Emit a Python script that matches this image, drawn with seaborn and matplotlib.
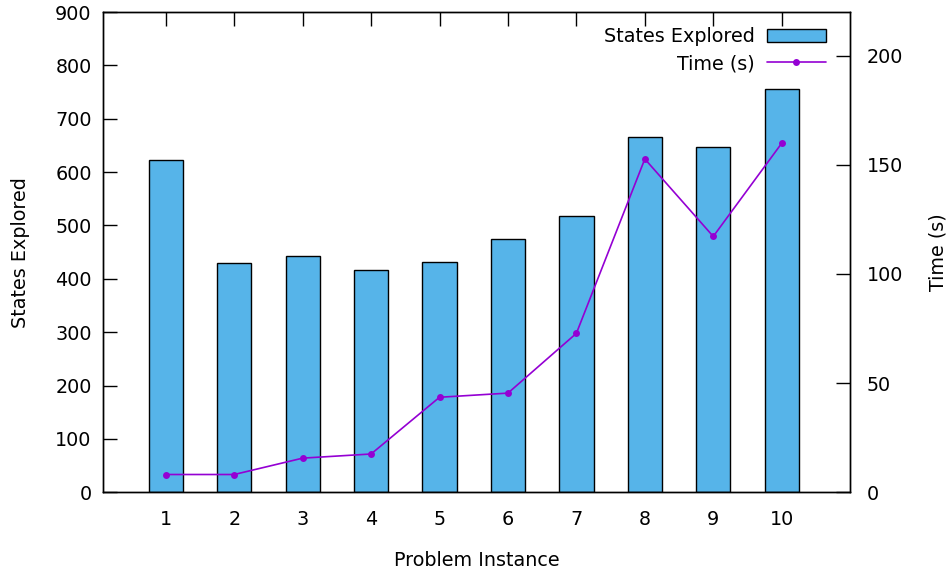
import matplotlib
matplotlib.use("Agg")
import matplotlib.pyplot as plt
from matplotlib.patches import Patch
from matplotlib.lines import Line2D
import seaborn as sns
import pandas as pd

# Per-instance results
instances = [1, 2, 3, 4, 5, 6, 7, 8, 9, 10]
states_explored = [622, 429, 442, 417, 431, 474, 518, 666, 647, 756]
time_s = [8.1, 8.1, 15.6, 17.5, 43.5, 45.4, 72.8, 152.7, 117.2, 159.9]

df = pd.DataFrame({"instance": instances, "states": states_explored, "time": time_s})

sns.set_theme(style="white")
plt.rcParams["font.family"] = ["DejaVu Sans"]
plt.rcParams["text.color"] = "black"
plt.rcParams["axes.labelcolor"] = "black"
FS = 13.8

BAR_COLOR = "#56B4E9"
LINE_COLOR = "#9400D3"

fig = plt.figure(figsize=(9.52, 5.77), dpi=100)
ax = fig.add_axes([0.108, 0.147, 0.785, 0.832])

sns.barplot(data=df, x="instance", y="states", native_scale=True, width=0.5,
            color=BAR_COLOR, edgecolor="black", linewidth=1.0, saturation=1,
            errorbar=None, ax=ax)
ax.set_xlim(0.08, 11.0)
ax.set_ylim(0, 900)
ax.set_xticks(instances)
ax.set_xticklabels([str(i) for i in instances])
ax.set_yticks(range(0, 901, 100))
ax.set_axisbelow(True)
ax.tick_params(axis="both", direction="in", length=10, width=1, colors="black",
               labelsize=FS, pad=8)
ax.tick_params(axis="x", top=True, bottom=True, pad=13)
ax.tick_params(axis="y", left=True, right=False)
ax.set_xlabel("Problem Instance", fontsize=FS, labelpad=16)
ax.set_ylabel("States Explored", fontsize=FS, labelpad=18)
for s in ax.spines.values():
    s.set_color("black")
    s.set_linewidth(1.0)

ax2 = ax.twinx()
sns.lineplot(data=df, x="instance", y="time", color=LINE_COLOR, marker="o",
             markersize=5, markeredgewidth=0, linewidth=1.2, ax=ax2)
ax2.set_ylim(0, 220)
ax2.set_yticks(range(0, 201, 50))
ax2.tick_params(axis="y", direction="in", length=10, width=1, colors="black",
                labelsize=FS, pad=12, right=True, left=False)
ax2.set_ylabel("Time (s)", fontsize=FS, labelpad=18)
ax2.set_xlabel("")
for s in ax2.spines.values():
    s.set_color("black")
    s.set_linewidth(1.0)

handles = [
    Patch(facecolor=BAR_COLOR, edgecolor="black", linewidth=1.0),
    Line2D([], [], color=LINE_COLOR, marker="o", markersize=5, markeredgewidth=0, linewidth=1.2),
]
leg = ax2.legend(handles, ["States Explored", "Time (s)"], loc="upper right",
                 bbox_to_anchor=(0.978, 0.985), frameon=False, markerfirst=False,
                 fontsize=FS, handlelength=3.1, handleheight=0.7,
                 labelspacing=0.42, handletextpad=0.6, borderaxespad=0)

fig.savefig("out.png", dpi=100)
